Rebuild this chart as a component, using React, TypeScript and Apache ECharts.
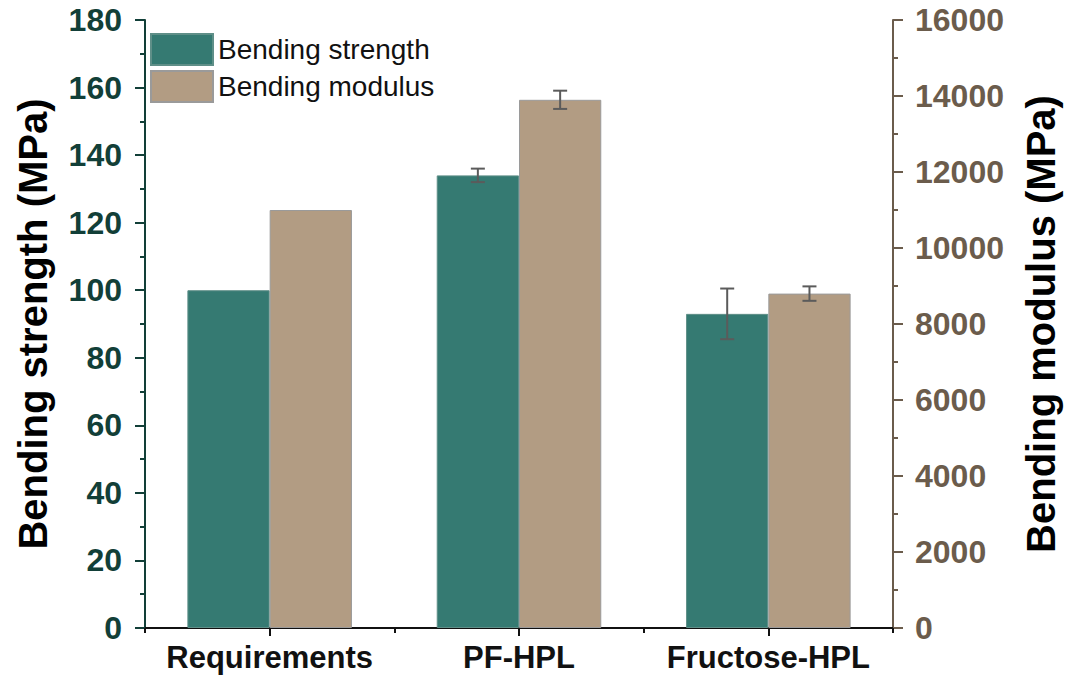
import React, { useEffect, useRef } from "react";
import * as echarts from "echarts";

const categories = ["Requirements", "PF-HPL", "Fructose-HPL"];
const strength = [100, 134, 93];
const strengthErr = [0, 2, 7.5];
const modulus = [11000, 13900, 8800];
const modulusErr = [0, 240, 190];
const leftTicks = { min: 0, max: 180, interval: 20 };
const rightTicks = { min: 0, max: 16000, interval: 2000 };

const GREEN = "#357a72";
const BROWN = "#b29c83";
const LEFT_COLOR = "#123f38";
const RIGHT_COLOR = "#6b5c4c";
const FONT = "Liberation Sans, Arial, sans-serif";
const BAR_FRAC = 0.33;

function errData(vals: number[], errs: number[]) {
  return vals
    .map((v, i) => (errs[i] ? [i, v - errs[i], v + errs[i]] : null))
    .filter((d) => d !== null);
}

function makeErrRender(sign: number) {
  return (params: any, api: any) => {
    const i = api.value(0);
    const lo = api.value(1);
    const hi = api.value(2);
    const bw = api.size([1, 0])[0];
    const off = (sign * bw * BAR_FRAC) / 2;
    const pLo = api.coord([i, lo]);
    const pHi = api.coord([i, hi]);
    const x = pLo[0] + off;
    const cap = 7;
    const style = { stroke: "#5b5b5b", lineWidth: 2 };
    return {
      type: "group",
      children: [
        { type: "line", shape: { x1: x, y1: pLo[1], x2: x, y2: pHi[1] }, style },
        { type: "line", shape: { x1: x - cap, y1: pHi[1], x2: x + cap, y2: pHi[1] }, style },
        { type: "line", shape: { x1: x - cap, y1: pLo[1], x2: x + cap, y2: pLo[1] }, style },
      ],
    };
  };
}

export default function App() {
  const ref = useRef<HTMLDivElement>(null);
  useEffect(() => {
    if (!ref.current) return;
    const chart = echarts.init(ref.current, undefined, { renderer: "svg" });
    chart.setOption({
      animation: false,
      backgroundColor: "#ffffff",
      grid: { left: 145, right: 181, top: 20, bottom: 50, containLabel: false },
      legend: {
        data: ["Bending strength", "Bending modulus"],
        orient: "vertical",
        left: 150,
        top: 33,
        padding: 0,
        itemWidth: 62,
        itemHeight: 31,
        itemGap: 4,
        icon: "rect",
        textStyle: { fontFamily: FONT, fontSize: 28, color: "#111" },
      },
      xAxis: [
        {
          type: "category",
          data: categories,
          position: "bottom",
          axisLine: { show: true, lineStyle: { color: "#111", width: 2 } },
          axisTick: { show: true, alignWithLabel: true, length: 8, lineStyle: { color: "#111", width: 2 } },
          axisLabel: {
            interval: 0,
            hideOverlap: false,
            fontFamily: FONT,
            fontSize: 31,
            fontWeight: "bold",
            color: "#111",
            margin: 14,
          },
          splitLine: { show: false },
        },
        {
          type: "category",
          data: categories,
          position: "top",
          axisLine: { show: true, lineStyle: { color: "#111", width: 2 } },
          axisTick: { show: false },
          axisLabel: { show: false },
        },
        {
          type: "category",
          data: categories,
          position: "bottom",
          gridIndex: 0,
          axisLine: { show: false },
          axisTick: { show: true, length: 5, lineStyle: { color: "#111", width: 2 } },
          axisLabel: { show: false },
        },
      ],
      yAxis: [
        {
          type: "value",
          position: "left",
          min: leftTicks.min,
          max: leftTicks.max,
          interval: leftTicks.interval,
          name: "Bending strength (MPa)",
          nameLocation: "middle",
          nameRotate: 90,
          nameGap: 92,
          nameTextStyle: { fontFamily: FONT, fontSize: 40, fontWeight: "bold", color: "#000" },
          axisLine: { show: true, lineStyle: { color: LEFT_COLOR, width: 2 } },
          axisTick: { show: true, length: 10, lineStyle: { color: LEFT_COLOR, width: 2 } },
          minorTick: { show: true, splitNumber: 2, length: 5, lineStyle: { color: LEFT_COLOR, width: 2 } },
          axisLabel: { fontFamily: FONT, fontSize: 32, fontWeight: "bold", color: LEFT_COLOR, margin: 23 },
          splitLine: { show: false },
        },
        {
          type: "value",
          position: "right",
          min: rightTicks.min,
          max: rightTicks.max,
          interval: rightTicks.interval,
          name: "Bending modulus (MPa)",
          nameLocation: "middle",
          nameRotate: 90,
          nameGap: 128,
          nameTextStyle: { fontFamily: FONT, fontSize: 40, fontWeight: "bold", color: "#000" },
          axisLine: { show: true, lineStyle: { color: RIGHT_COLOR, width: 2 } },
          axisTick: { show: true, length: 10, lineStyle: { color: RIGHT_COLOR, width: 2 } },
          minorTick: { show: true, splitNumber: 2, length: 5, lineStyle: { color: RIGHT_COLOR, width: 2 } },
          axisLabel: {
            fontFamily: FONT,
            fontSize: 32,
            fontWeight: "bold",
            color: RIGHT_COLOR,
            margin: 22,
            formatter: (v: number) => String(v),
          },
          splitLine: { show: false },
        },
      ],
      series: [
        {
          name: "Bending strength",
          type: "bar",
          xAxisIndex: 0,
          yAxisIndex: 0,
          data: strength,
          barWidth: BAR_FRAC * 100 + "%",
          barGap: "0%",
          itemStyle: { color: GREEN, borderColor: "#5f8f88", borderWidth: 1 },
        },
        {
          name: "Bending modulus",
          type: "bar",
          xAxisIndex: 0,
          yAxisIndex: 1,
          data: modulus,
          barWidth: BAR_FRAC * 100 + "%",
          barGap: "0%",
          itemStyle: { color: BROWN, borderColor: "#9a9a9a", borderWidth: 1 },
        },
        {
          type: "custom",
          xAxisIndex: 0,
          yAxisIndex: 0,
          z: 10,
          renderItem: makeErrRender(-1),
          encode: { x: 0, y: [1, 2] },
          data: errData(strength, strengthErr),
        },
        {
          type: "custom",
          xAxisIndex: 0,
          yAxisIndex: 1,
          z: 10,
          renderItem: makeErrRender(1),
          encode: { x: 0, y: [1, 2] },
          data: errData(modulus, modulusErr),
        },
      ],
    });
    return () => chart.dispose();
  }, []);
  return (
    <div
      ref={ref}
      style={{ position: "fixed", left: 0, top: 0, width: 1074, height: 678, background: "#fff" }}
    />
  );
}
